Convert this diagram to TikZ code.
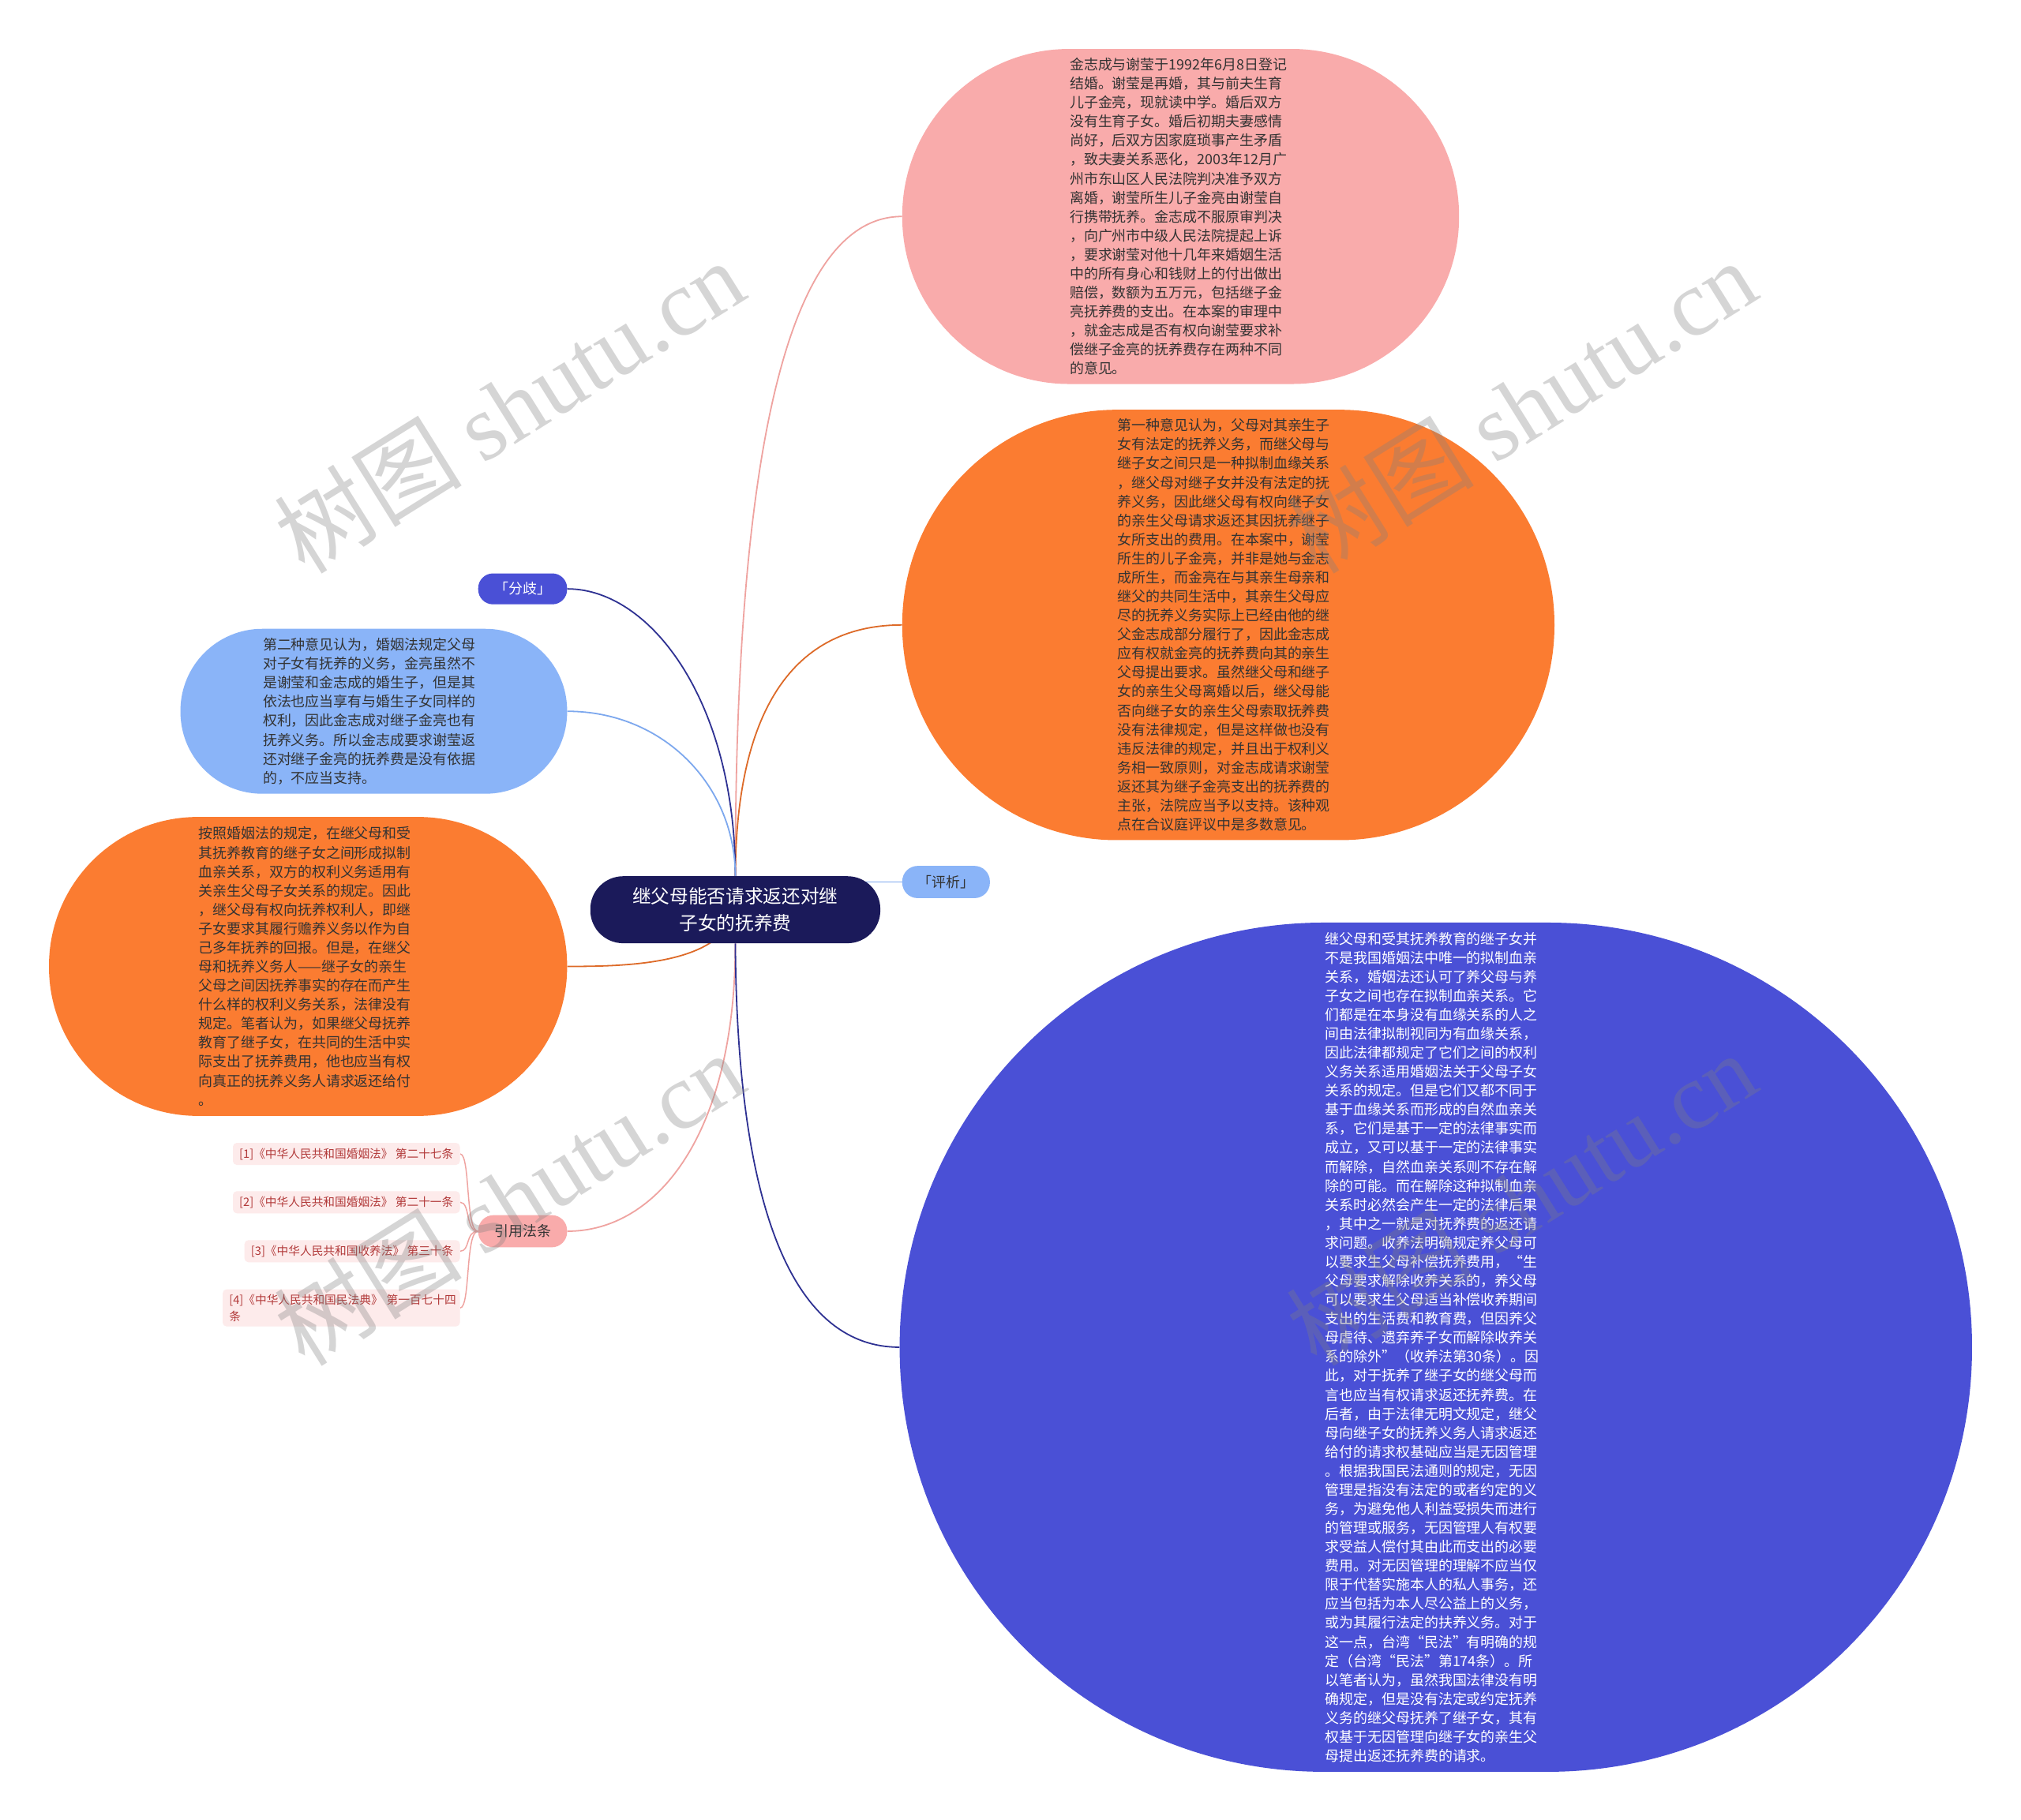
\documentclass[tikz,border=0pt]{standalone}
\usepackage{fontspec}
\setmainfont{Noto Sans CJK SC}
\newfontfamily\wmlatin{Liberation Serif}
\usetikzlibrary{backgrounds}
\definecolor{cPink}{HTML}{F9ABAB}
\definecolor{cPinkLine}{HTML}{EFA3A0}
\definecolor{cOrange}{HTML}{FB7C31}
\definecolor{cOrangeLine}{HTML}{DD6A28}
\definecolor{cLBlue}{HTML}{8AB4F8}
\definecolor{cLBlueLine}{HTML}{7DA8EE}
\definecolor{cBlue}{HTML}{4A50D6}
\definecolor{cNavy}{HTML}{1B1A5A}
\definecolor{cNavyLine}{HTML}{2E3192}
\definecolor{cCitFill}{HTML}{FDEBEB}
\definecolor{cCitText}{HTML}{B23A3A}
\definecolor{cText}{HTML}{333333}
\tikzset{
  bubble/.style={inner sep=0pt, align=left, text=cText, font=\fontsize{11}{14.75}\selectfont},
  tag/.style={inner sep=0pt, align=center, font=\fontsize{11}{13}\selectfont},
  cit/.style={fill=cCitFill, text=cCitText, rounded corners=3pt, inner xsep=5pt, inner ysep=4pt,
              font=\fontsize{9}{13}\selectfont, anchor=east, align=left},
  conn/.style={line width=1.1pt},
  citconn/.style={line width=0.9pt, cPinkLine},
  wm/.style={text=gray, text opacity=0.33, font=\fontsize{73}{73}\selectfont, rotate=32, inner sep=0pt},
}
\begin{document}
\begin{tikzpicture}[x=1pt,y=-1pt]
\useasboundingbox (0,0) rectangle (1568,1412);

% ---------- bubbles ----------
\node[bubble, fill=cPink, minimum width=432pt, minimum height=260pt, rounded corners=129.5pt, text width=172pt] (case) at (916,168) {%
金志成与谢莹于1992年6月8日登记\\
结婚。谢莹是再婚，其与前夫生育\\
儿子金亮，现就读中学。婚后双方\\
没有生育子女。婚后初期夫妻感情\\
尚好，后双方因家庭琐事产生矛盾\\
，致夫妻关系恶化，2003年12月广\\
州市东山区人民法院判决准予双方\\
离婚，谢莹所生儿子金亮由谢莹自\\
行携带抚养。金志成不服原审判决\\
，向广州市中级人民法院提起上诉\\
，要求谢莹对他十几年来婚姻生活\\
中的所有身心和钱财上的付出做出\\
赔偿，数额为五万元，包括继子金\\
亮抚养费的支出。在本案的审理中\\
，就金志成是否有权向谢莹要求补\\
偿继子金亮的抚养费存在两种不同\\
的意见。};

\node[bubble, fill=cOrange, minimum width=506pt, minimum height=334pt, rounded corners=166.5pt, text width=172pt] (op1) at (953,485) {%
第一种意见认为，父母对其亲生子\\
女有法定的抚养义务，而继父母与\\
继子女之间只是一种拟制血缘关系\\
，继父母对继子女并没有法定的抚\\
养义务，因此继父母有权向继子女\\
的亲生父母请求返还其因抚养继子\\
女所支出的费用。在本案中，谢莹\\
所生的儿子金亮，并非是她与金志\\
成所生，而金亮在与其亲生母亲和\\
继父的共同生活中，其亲生父母应\\
尽的抚养义务实际上已经由他的继\\
父金志成部分履行了，因此金志成\\
应有权就金亮的抚养费向其的亲生\\
父母提出要求。虽然继父母和继子\\
女的亲生父母离婚以后，继父母能\\
否向继子女的亲生父母索取抚养费\\
没有法律规定，但是这样做也没有\\
违反法律的规定，并且出于权利义\\
务相一致原则，对金志成请求谢莹\\
返还其为继子金亮支出的抚养费的\\
主张，法院应当予以支持。该种观\\
点在合议庭评议中是多数意见。};

\node[bubble, fill=cLBlue, minimum width=300pt, minimum height=128pt, rounded corners=63.5pt, text width=172pt] (op2) at (290,552) {%
第二种意见认为，婚姻法规定父母\\
对子女有抚养的义务，金亮虽然不\\
是谢莹和金志成的婚生子，但是其\\
依法也应当享有与婚生子女同样的\\
权利，因此金志成对继子金亮也有\\
抚养义务。所以金志成要求谢莹返\\
还对继子金亮的抚养费是没有依据\\
的，不应当支持。};

\node[bubble, fill=cOrange, minimum width=402pt, minimum height=232pt, rounded corners=115.5pt, text width=170pt] (view) at (239,750) {%
按照婚姻法的规定，在继父母和受\\
其抚养教育的继子女之间形成拟制\\
血亲关系，双方的权利义务适用有\\
关亲生父母子女关系的规定。因此\\
，继父母有权向抚养权利人，即继\\
子女要求其履行赡养义务以作为自\\
己多年抚养的回报。但是，在继父\\
母和抚养义务人——继子女的亲生\\
父母之间因抚养事实的存在而产生\\
什么样的权利义务关系，法律没有\\
规定。笔者认为，如果继父母抚养\\
教育了继子女，在共同的生活中实\\
际支出了抚养费用，他也应当有权\\
向真正的抚养义务人请求返还给付\\
。};

\node[bubble, fill=cBlue, text=white, minimum width=832pt, minimum height=659pt, rounded corners=329pt, text width=172pt] (ana) at (1114,1045.5) {%
继父母和受其抚养教育的继子女并\\
不是我国婚姻法中唯一的拟制血亲\\
关系，婚姻法还认可了养父母与养\\
子女之间也存在拟制血亲关系。它\\
们都是在本身没有血缘关系的人之\\
间由法律拟制视同为有血缘关系，\\
因此法律都规定了它们之间的权利\\
义务关系适用婚姻法关于父母子女\\
关系的规定。但是它们又都不同于\\
基于血缘关系而形成的自然血亲关\\
系，它们是基于一定的法律事实而\\
成立，又可以基于一定的法律事实\\
而解除，自然血亲关系则不存在解\\
除的可能。而在解除这种拟制血亲\\
关系时必然会产生一定的法律后果\\
，其中之一就是对抚养费的返还请\\
求问题。收养法明确规定养父母可\\
以要求生父母补偿抚养费用，“生\\
父母要求解除收养关系的，养父母\\
可以要求生父母适当补偿收养期间\\
支出的生活费和教育费，但因养父\\
母虐待、遗弃养子女而解除收养关\\
系的除外”（收养法第30条）。因\\
此，对于抚养了继子女的继父母而\\
言也应当有权请求返还抚养费。在\\
后者，由于法律无明文规定，继父\\
母向继子女的抚养义务人请求返还\\
给付的请求权基础应当是无因管理\\
。根据我国民法通则的规定，无因\\
管理是指没有法定的或者约定的义\\
务，为避免他人利益受损失而进行\\
的管理或服务，无因管理人有权要\\
求受益人偿付其由此而支出的必要\\
费用。对无因管理的理解不应当仅\\
限于代替实施本人的私人事务，还\\
应当包括为本人尽公益上的义务，\\
或为其履行法定的扶养义务。对于\\
这一点，台湾“民法”有明确的规\\
定（台湾“民法”第174条）。所\\
以笔者认为，虽然我国法律没有明\\
确规定，但是没有法定或约定抚养\\
义务的继父母抚养了继子女，其有\\
权基于无因管理向继子女的亲生父\\
母提出返还抚养费的请求。};

% ---------- central topic and labels ----------
\node[fill=cNavy, text=white, inner sep=0pt, minimum width=225pt, minimum height=52pt, rounded corners=25.5pt,
      align=center, font=\fontsize{14.5}{21}\selectfont] (ctr) at (570.5,706) {继父母能否请求返还对继\\子女的抚养费};
\node[tag, fill=cBlue, text=white, minimum width=69pt, minimum height=24pt, rounded corners=11.5pt] (fenqi) at (405.5,457) {「分歧」};
\node[tag, fill=cLBlue, text=cText, minimum width=68pt, minimum height=25pt, rounded corners=12pt] (pingxi) at (734,684.5) {「评析」};
\node[tag, fill=cPink, text=cText, minimum width=69pt, minimum height=25pt, rounded corners=12pt] (yinyong) at (405.5,955.5) {引用法条};

% ---------- citations ----------
\node[cit] (c1) at (357,895.5) {[1]《中华人民共和国婚姻法》 第二十七条};
\node[cit] (c2) at (357,933) {[2]《中华人民共和国婚姻法》 第二十一条};
\node[cit] (c3) at (357,971) {[3]《中华人民共和国收养法》 第三十条};
\node[cit, text width=174pt, font=\fontsize{9}{12.5}\selectfont] (c4) at (357,1015) {[4]《中华人民共和国民法典》~第一百七十四\\条};

% ---------- connectors ----------
\begin{pgfonlayer}{background}
\fill[white] (0,0) rectangle (1568,1412);
\draw[conn, cPinkLine] (ctr.north) .. controls (570.5,400) and (600,168) .. (case.west);
\draw[conn, cOrangeLine] (ctr.north) .. controls (571,560) and (610,485) .. (op1.west);
\draw[conn, cNavyLine] (ctr.north) .. controls (570.5,545) and (505,457) .. (fenqi.east);
\draw[conn, cLBlueLine] (ctr.north) .. controls (570.5,610) and (515,552) .. (op2.east);
\draw[conn, cLBlueLine] (ctr.center |- pingxi.west) -- (pingxi.west);
\draw[conn, cOrangeLine] (ctr.center) .. controls (560,748) and (490,750) .. (view.east);
\draw[conn, cPinkLine] (ctr.south) .. controls (570.5,880) and (510,955.5) .. (yinyong.east);
\draw[conn, cNavyLine] (ctr.south) .. controls (572,950) and (620,1045.5) .. (ana.west);
\draw[citconn] (yinyong.west) .. controls (361,955.5) and (365,895.5) .. (c1.east);
\draw[citconn] (yinyong.west) .. controls (361,955.5) and (365,933) .. (c2.east);
\draw[citconn] (yinyong.west) .. controls (361,955.5) and (365,971) .. (c3.east);
\draw[citconn] (yinyong.west) .. controls (361,955.5) and (365,1015) .. (c4.east);
\end{pgfonlayer}

% ---------- watermarks ----------
\node[wm] (wm1) at (395,315) {树图 {\wmlatin shutu.cn}};
\node[wm] (wm2) at (1180,315) {树图 {\wmlatin shutu.cn}};
\node[wm] (wm3) at (395,930) {树图 {\wmlatin shutu.cn}};
\node[wm] (wm4) at (1180,930) {树图 {\wmlatin shutu.cn}};
\end{tikzpicture}
\end{document}
